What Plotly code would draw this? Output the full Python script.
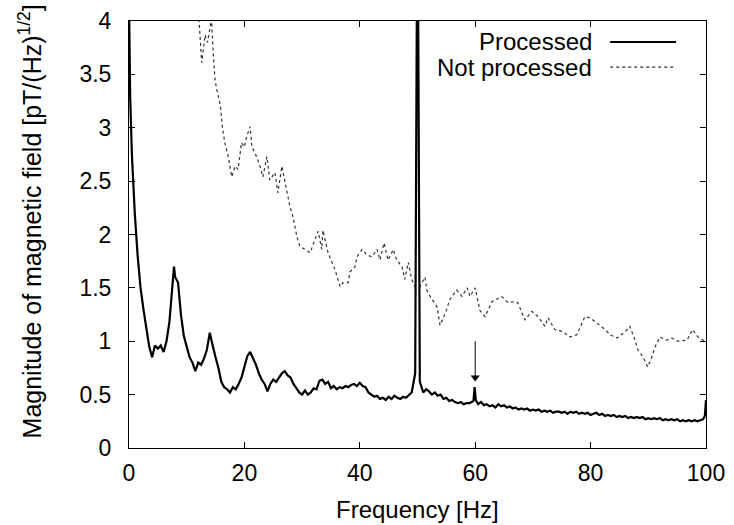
import plotly.graph_objects as go

# ---------------- data ----------------
freq_processed = [
    0.0, 0.2, 0.5, 1.0, 1.5, 2.0, 2.5, 3.0, 3.5, 4.0, 4.5, 5.0, 5.5, 6.0, 6.5, 7.0, 7.5, 7.8, 8.0, 8.5,
    9.0, 9.5, 10.0, 10.5, 11.0, 11.5, 12.0, 12.5, 13.0, 13.5, 14.0, 14.3, 14.5, 15.0, 15.5, 16.0, 16.5,
    17.0, 17.5, 18.0, 18.5, 19.0, 19.5, 20.0, 20.5, 21.0, 21.5, 22.0, 22.5, 23.0, 23.5, 24.0, 24.5,
    25.0, 25.5, 26.0, 26.5, 27.0, 27.5, 28.0, 28.5, 29.0, 29.5, 30.0, 30.5, 31.0, 31.5, 32.0, 32.5,
    33.0, 33.5, 34.0, 34.5, 35.0, 35.5, 36.0, 36.5, 37.0, 37.5, 38.0, 38.5, 39.0, 39.5, 40.0, 40.5,
    41.0, 41.5, 42.0, 42.5, 43.0, 43.5, 44.0, 44.5, 45.0, 45.5, 46.0, 46.5, 47.0, 47.5, 48.0, 48.5,
    49.0, 49.6, 49.9, 50.1, 50.4, 51.0, 51.5, 52.0, 52.5, 53.0, 53.5, 54.0, 54.5, 55.0,
    55.5, 56.0, 56.5, 57.0, 57.5, 58.0, 58.5, 59.0, 59.7, 59.9, 60.1, 60.5, 61.0, 61.5, 62.0, 62.5,
    63.0, 63.5, 64.0, 64.5, 65.0, 65.5, 66.0, 66.5, 67.0, 67.5, 68.0, 68.5, 69.0, 69.5, 70.0, 70.5,
    71.0, 71.5, 72.0, 72.5, 73.0, 73.5, 74.0, 74.5, 75.0, 75.5, 76.0, 76.5, 77.0, 77.5, 78.0, 78.5,
    79.0, 79.5, 80.0, 80.5, 81.0, 81.5, 82.0, 82.5, 83.0, 83.5, 84.0, 84.5, 85.0, 85.5, 86.0, 86.5,
    87.0, 87.5, 88.0, 88.5, 89.0, 89.5, 90.0, 90.5, 91.0, 91.5, 92.0, 92.5, 93.0, 93.5, 94.0, 94.5,
    95.0, 95.5, 96.0, 96.5, 97.0, 97.5, 98.0, 98.5, 99.0, 99.5, 99.8, 100.0,
]
mag_processed = [
    4.20, 3.30, 2.75, 2.20, 1.80, 1.50, 1.30, 1.12, 0.95, 0.85, 0.96, 0.93, 0.96, 0.90, 1.00, 1.18, 1.50, 1.70, 1.60, 1.55,
    1.25, 1.05, 0.95, 0.85, 0.80, 0.72, 0.80, 0.78, 0.84, 0.92, 1.08, 1.02, 0.96, 0.85, 0.75, 0.62, 0.57,
    0.55, 0.52, 0.57, 0.55, 0.60, 0.66, 0.76, 0.86, 0.90, 0.84, 0.78, 0.70, 0.64, 0.60, 0.53, 0.60,
    0.64, 0.62, 0.66, 0.70, 0.72, 0.68, 0.66, 0.60, 0.56, 0.52, 0.50, 0.54, 0.50, 0.52, 0.56, 0.55,
    0.63, 0.64, 0.60, 0.62, 0.56, 0.58, 0.55, 0.57, 0.56, 0.58, 0.57, 0.59, 0.60, 0.58, 0.61, 0.58,
    0.57, 0.52, 0.50, 0.48, 0.49, 0.46, 0.47, 0.45, 0.48, 0.46, 0.49, 0.47, 0.46, 0.48, 0.47, 0.50,
    0.52, 0.70, 4.30, 4.30, 0.62, 0.52, 0.55, 0.53, 0.50, 0.52, 0.49, 0.50, 0.46, 0.47,
    0.44, 0.45, 0.43, 0.42, 0.43, 0.41, 0.42, 0.42, 0.44, 0.57, 0.45, 0.41, 0.43, 0.40, 0.41, 0.39,
    0.40, 0.38, 0.41, 0.39, 0.40, 0.38, 0.39, 0.37, 0.38, 0.36, 0.37, 0.36, 0.37, 0.35, 0.36, 0.35,
    0.36, 0.34, 0.35, 0.34, 0.35, 0.33, 0.34, 0.34, 0.33, 0.34, 0.32, 0.34, 0.33, 0.34, 0.32, 0.33,
    0.32, 0.33, 0.31, 0.32, 0.33, 0.31, 0.32, 0.30, 0.31, 0.30, 0.31, 0.29, 0.30, 0.29, 0.30, 0.28,
    0.29, 0.28, 0.29, 0.28, 0.29, 0.27, 0.28, 0.27, 0.28, 0.27, 0.28, 0.26, 0.27, 0.26, 0.27, 0.26,
    0.27, 0.25, 0.26, 0.25, 0.26, 0.25, 0.26, 0.25, 0.26, 0.27, 0.30, 0.45,
]

freq_raw = [
    11.8, 12.6, 13.2, 13.6, 14.0, 14.3, 14.6, 14.9, 15.2, 15.8, 16.2, 16.6, 17.2, 17.8, 18.4, 18.9,
    19.5, 20.0, 20.4, 21.0, 21.3, 21.8, 22.3, 22.7, 23.2, 23.9, 24.4, 25.3, 25.8, 26.5, 27.3, 27.9,
    28.4, 29.1, 29.6, 30.5, 31.4, 32.2, 32.8, 33.4, 33.6, 34.5, 35.0, 35.4, 35.7, 36.6, 37.1, 38.0,
    38.3, 39.2, 39.5, 40.4, 41.2, 42.1, 43.0, 43.5, 44.2, 44.9, 45.8, 46.4, 47.3, 47.8, 48.4, 49.0,
    49.6, 50.4, 51.3, 51.6, 52.2, 53.4, 53.9, 54.8, 55.6, 56.8, 57.7, 58.6, 59.1, 60.0, 60.8, 61.7,
    62.9, 64.6, 65.7, 66.6, 67.4, 68.6, 69.8, 70.9, 72.1, 72.6, 73.8, 75.2, 76.4, 77.6, 79.0, 79.9,
    81.1, 82.5, 83.4, 84.6, 86.0, 86.8, 87.7, 88.2, 89.1, 89.9, 90.6, 91.2, 92.0, 93.2, 94.1, 95.1,
    96.7, 97.7, 98.6, 99.5, 100.0,
]
mag_raw = [
    4.30, 3.61, 3.87, 3.80, 3.92, 4.02, 3.70, 3.45, 3.36, 3.22, 3.00, 2.86, 2.73, 2.54, 2.64, 2.61,
    2.86, 2.82, 2.92, 3.01, 2.82, 2.77, 2.70, 2.64, 2.54, 2.73, 2.51, 2.58, 2.39, 2.64, 2.42, 2.26,
    2.17, 1.98, 1.89, 1.86, 1.83, 1.95, 2.03, 1.86, 2.04, 1.83, 1.76, 1.70, 1.67, 1.51, 1.55, 1.55,
    1.65, 1.70, 1.79, 1.86, 1.81, 1.79, 1.86, 1.76, 1.92, 1.76, 1.86, 1.76, 1.70, 1.58, 1.74, 1.58,
    1.51, 1.51, 1.60, 1.48, 1.42, 1.32, 1.15, 1.26, 1.39, 1.48, 1.42, 1.50, 1.42, 1.50, 1.29, 1.23,
    1.37, 1.42, 1.36, 1.37, 1.36, 1.20, 1.28, 1.23, 1.14, 1.22, 1.11, 1.09, 1.04, 1.06, 1.23, 1.22,
    1.17, 1.11, 1.06, 1.03, 1.09, 1.14, 1.01, 0.92, 0.85, 0.76, 0.85, 0.95, 1.04, 1.01, 1.03, 1.00,
    1.01, 1.11, 1.04, 1.01, 0.98,
]

x_ticks = [0, 20, 40, 60, 80, 100]
y_ticks = [0, 0.5, 1, 1.5, 2, 2.5, 3, 3.5, 4]
y_tick_labels = ["0", "0.5", "1", "1.5", "2", "2.5", "3", "3.5", "4"]

x_title = "Frequency [Hz]"
y_title = "Magnitude of magnetic field [pT/(Hz)<sup>1/2</sup>]"

# arrow marking the 60 Hz line
arrow_x = [60, 60]
arrow_y = [1.0, 0.66]

FONT = "Liberation Sans, Arial, Helvetica, sans-serif"

fig = go.Figure()
fig.add_trace(go.Scatter(
    x=freq_raw, y=mag_raw, mode="lines", name="Not processed",
    line=dict(color="#333333", width=1.2, dash="dot"), showlegend=False,
))
fig.add_trace(go.Scatter(
    x=freq_processed, y=mag_processed, mode="lines", name="Processed",
    line=dict(color="black", width=2.2), showlegend=False,
))
# arrow shaft + head
fig.add_trace(go.Scatter(
    x=arrow_x, y=arrow_y, mode="lines", line=dict(color="black", width=1),
    showlegend=False, hoverinfo="skip",
))
fig.add_trace(go.Scatter(
    x=arrow_x[1:], y=arrow_y[1:], mode="markers",
    marker=dict(symbol="triangle-down", size=8, color="black"),
    showlegend=False, hoverinfo="skip",
))

# legend drawn gnuplot-style: text right-aligned, sample line to the right
legend_items = [("Processed", "solid", 2, 0.951), ("Not processed", "dot", 1.2, 0.892)]
for label, dash, w, yy in legend_items:
    fig.add_annotation(xref="paper", yref="paper", x=0.806, y=yy, text=label,
                       showarrow=False, xanchor="right", yanchor="middle",
                       font=dict(family=FONT, size=24, color="black"))
    fig.add_shape(type="line", xref="paper", yref="paper", x0=0.834, x1=0.948, y0=yy, y1=yy,
                  line=dict(color="black" if dash == "solid" else "#333333", width=w, dash=dash))

# axis titles
fig.add_annotation(xref="paper", yref="paper", x=0.5, y=-0.145, text=x_title,
                   showarrow=False, xanchor="center", yanchor="middle",
                   font=dict(family=FONT, size=24, color="black"))
fig.add_annotation(xref="paper", yref="paper", x=-0.172, y=0.53, text=y_title,
                   showarrow=False, xanchor="center", yanchor="middle", textangle=-90,
                   font=dict(family=FONT, size=25, color="black"))

axis_common = dict(
    showline=True, linecolor="black", linewidth=1, mirror="ticks",
    ticks="inside", ticklen=6, tickcolor="black", tickwidth=1,
    showgrid=False, zeroline=False, automargin=False,
    tickfont=dict(family=FONT, size=23, color="black"),
)

fig.update_xaxes(range=[0, 100], tickvals=x_ticks, ticktext=[str(v) for v in x_ticks],
                 ticklabelstandoff=4, **axis_common)
fig.update_yaxes(range=[0, 4], tickvals=y_ticks, ticktext=y_tick_labels,
                 ticklabelstandoff=12, **axis_common)

fig.update_layout(
    width=734, height=525,
    margin=dict(l=129, r=28, t=21, b=77),
    paper_bgcolor="white", plot_bgcolor="white",
    font=dict(family=FONT, color="black"),
)

fig.write_html("out.html")
